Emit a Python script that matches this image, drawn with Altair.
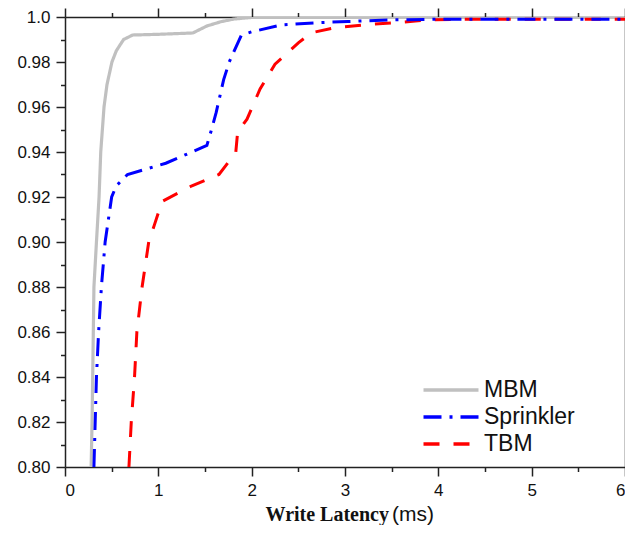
import altair as alt
import pandas as pd

# ---- data ----
MBM_x = [0.28, 0.29, 0.31, 0.337, 0.365, 0.383, 0.418, 0.45, 0.503, 0.55, 0.628, 0.725, 1.0, 1.37, 1.52, 1.67, 1.81, 2.0, 6.0]
MBM_y = [0.800, 0.820, 0.880, 0.900, 0.920, 0.940, 0.960, 0.970, 0.980, 0.985, 0.990, 0.9920, 0.9923, 0.9929, 0.9960, 0.9979, 0.9991, 0.9998, 0.9998]

SPR_x = [0.31, 0.337, 0.36, 0.39, 0.43, 0.50, 0.55, 0.67, 1.08, 1.52, 1.57, 1.62, 1.70, 1.76, 1.89, 2.0, 2.32, 2.71, 3.03, 3.5, 4.0, 6.0]
SPR_y = [0.800, 0.840, 0.860, 0.880, 0.900, 0.920, 0.925, 0.930, 0.935, 0.9429, 0.950, 0.9576, 0.9722, 0.980, 0.992, 0.9934, 0.9965, 0.9975, 0.998, 0.9987, 0.999, 0.999]

TBM_x = [0.685, 0.71, 0.745, 0.77, 0.826, 0.897, 0.957, 1.04, 1.36, 1.65, 1.755, 1.83, 1.85, 1.95, 2.09, 2.25, 2.5, 2.64, 2.9, 3.2, 3.55, 3.9, 4.2, 6.0]
TBM_y = [0.800, 0.820, 0.840, 0.860, 0.880, 0.900, 0.9075, 0.918, 0.925, 0.930, 0.9357, 0.940, 0.949, 0.9546, 0.968, 0.979, 0.9885, 0.993, 0.9953, 0.9965, 0.9975, 0.9987, 0.999, 0.999]

SERIES = ["MBM", "Sprinkler", "TBM"]
COLORS = ["#c0c0c0", "#0000ff", "#ff0000"]
DASHES = [[1, 0], [18, 8, 3, 8], [16, 14]]

X_TICKS = [0, 0.5, 1, 1.5, 2, 2.5, 3, 3.5, 4, 4.5, 5, 5.5, 6]
Y_TICKS = [0.80, 0.81, 0.82, 0.83, 0.84, 0.85, 0.86, 0.87, 0.88, 0.89, 0.90,
           0.91, 0.92, 0.93, 0.94, 0.95, 0.96, 0.97, 0.98, 0.99, 1.00]

TITLE_MAIN = "Write Latency"
TITLE_UNIT = "(ms)"

rows = []
for name, xs, ys in [("MBM", MBM_x, MBM_y), ("Sprinkler", SPR_x, SPR_y), ("TBM", TBM_x, TBM_y)]:
    for i, (a, b) in enumerate(zip(xs, ys)):
        rows.append({"series": name, "x": a, "y": b, "i": i})
df = pd.DataFrame(rows)

FONT = "Liberation Sans"
xscale = alt.Scale(domain=[0, 6], nice=False, zero=False)
yscale = alt.Scale(domain=[0.8, 1.0], nice=False, zero=False)

x_tick_size = {"condition": {"test": "datum.value % 1 == 0", "value": 9}, "value": 4.5}
y_tick_size = {"condition": {"test": "round(datum.value * 100) % 2 == 0", "value": 9}, "value": 4.5}

common_axis = dict(domainColor="#222222", domainWidth=1.5, tickColor="#222222", tickWidth=1.5,
                   grid=False, title=None)
label_style = dict(labelFont=FONT, labelFontSize=17, labelColor="#111111", labelOverlap=False)

x_axis_bottom = alt.Axis(orient="bottom", values=X_TICKS, tickSize=x_tick_size,
                         labelExpr="datum.value % 1 == 0 ? format(datum.value, 'd') : ''",
                         labelPadding=6, **common_axis, **label_style)
y_axis_left = alt.Axis(orient="left", values=Y_TICKS, tickSize=y_tick_size,
                       labelExpr="round(datum.value * 100) % 2 == 0 ? (datum.value > 0.999 ? '1.0' : format(datum.value, '.2f')) : ''",
                       labelPadding=6, **common_axis, **label_style)
x_axis_top = alt.Axis(orient="top", values=X_TICKS, tickSize=x_tick_size, labels=False, **common_axis)
y_axis_right = alt.Axis(orient="right", values=Y_TICKS, tickSize=y_tick_size, labels=False, **common_axis)

color = alt.Color("series:N", scale=alt.Scale(domain=SERIES, range=COLORS),
                  legend=alt.Legend(orient="none", legendX=373, legendY=360, title=None,
                                    symbolType="M-2.5,0H2.5", symbolSize=484, symbolStrokeWidth=3.5,
                                    labelFont=FONT, labelFontSize=23, labelColor="#111111",
                                    labelOffset=20, rowPadding=2, padding=0))
dash = alt.StrokeDash("series:N", scale=alt.Scale(domain=SERIES, range=DASHES), legend=None)


def series_layer(name, width):
    return alt.Chart(df).transform_filter(alt.datum.series == name).mark_line(
        strokeWidth=width, clip=True
    ).encode(
        x=alt.X("x:Q", scale=xscale, axis=x_axis_bottom),
        y=alt.Y("y:Q", scale=yscale, axis=y_axis_left),
        color=color,
        strokeDash=dash,
        order="i:Q",
    )


data_layers = alt.layer(series_layer("MBM", 3.2), series_layer("TBM", 3), series_layer("Sprinkler", 3))

frame = alt.Chart(df).mark_point(opacity=0).encode(
    x=alt.X("x:Q", scale=xscale, axis=x_axis_top),
    y=alt.Y("y:Q", scale=yscale, axis=y_axis_right),
)

t1 = alt.Chart(pd.DataFrame({"t": [TITLE_MAIN]})).mark_text(
    font="Liberation Serif", fontWeight="bold", fontSize=20, align="right", baseline="alphabetic", color="#111111"
).encode(text="t:N", x=alt.value(324), y=alt.value(504))
t2 = alt.Chart(pd.DataFrame({"t": [TITLE_UNIT]})).mark_text(
    font=FONT, fontSize=21, align="left", baseline="alphabetic", color="#111111"
).encode(text="t:N", x=alt.value(327), y=alt.value(504))

chart = alt.layer(data_layers, frame, t1, t2).resolve_axis(x="independent", y="independent").properties(
    width=560, height=450,
    autosize=alt.AutoSizeParams(type="none"),
    padding={"left": 57, "top": 9, "right": 0, "bottom": 58},
).configure_view(stroke=None).configure(background="white")

chart.save("out.html", embed_options={"renderer": "svg", "actions": False})
